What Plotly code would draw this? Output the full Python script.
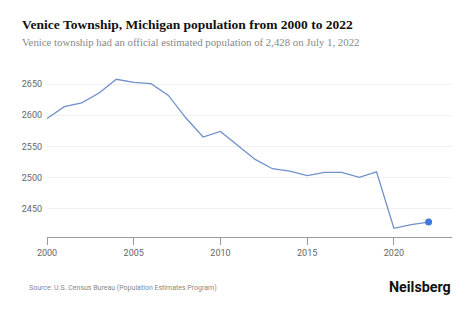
import plotly.graph_objects as go

years = list(range(2000, 2023))
population = [2595, 2614, 2620, 2636, 2658, 2653, 2651, 2632, 2596, 2565, 2574,
              2551, 2529, 2514, 2510, 2503, 2508, 2508, 2500, 2509, 2418, 2424, 2428]
x_ticks = [2000, 2005, 2010, 2015, 2020]
y_ticks = [2450, 2500, 2550, 2600, 2650]

title = "Venice Township, Michigan population from 2000 to 2022"
subtitle = "Venice township had an official estimated population of 2,428 on July 1, 2022"
source = "Source: U.S. Census Bureau (Population Estimates Program)"
brand = "Neilsberg"

fig = go.Figure()
fig.add_trace(go.Scatter(
    x=years, y=population, mode="lines",
    line=dict(color="#7091c9", width=1.3),
    hoverinfo="skip", showlegend=False))
fig.add_trace(go.Scatter(
    x=[years[-1]], y=[population[-1]], mode="markers",
    marker=dict(color="#3f7bdc", size=7),
    hoverinfo="skip", showlegend=False))

fig.update_layout(
    width=474, height=316,
    margin=dict(l=47, r=22, t=70, b=79),
    paper_bgcolor="white", plot_bgcolor="white",
    xaxis=dict(range=[2000, 2023.35], tickvals=x_ticks, ticks="outside",
               ticklen=7, tickcolor="#999999", showline=True, linecolor="#999999",
               linewidth=1, showgrid=False, zeroline=False,
               tickfont=dict(family="Roboto", size=9, color="#666666")),
    yaxis=dict(range=[2404, 2673], tickvals=y_ticks, showgrid=True,
               gridcolor="#f0f0f0", gridwidth=1, zeroline=False, ticks="",
               ticklabelstandoff=4,
               tickfont=dict(family="Roboto", size=9, color="#666666")),
    annotations=[
        dict(text="<b>" + title + "</b>", x=20, y=24, showarrow=False,
             xanchor="left", yanchor="middle",
             font=dict(family="Liberation Serif", size=13.5, color="#111111")),
        dict(text=subtitle, x=20, y=42, showarrow=False, xanchor="left", yanchor="middle",
             font=dict(family="Liberation Serif", size=10.8, color="#888888")),
        dict(text=source, x=27, y=288, showarrow=False, xanchor="left", yanchor="middle",
             font=dict(family="Roboto", size=7, color="#888888")),
        dict(text="<b>" + brand + "</b>", x=453, y=287, showarrow=False, xanchor="right",
             yanchor="middle", font=dict(family="Roboto", size=14.3, color="#111111")),
    ],
)
W, H = 474, 316
l, r, t, b = 47, 22, 70, 79
pw, ph = W - l - r, H - t - b
for a in fig.layout.annotations:
    px, py = a.x, a.y
    a.xref = "paper"; a.yref = "paper"
    a.x = (px - l) / pw
    a.y = (H - b - py) / ph

fig.write_html("out.html")
